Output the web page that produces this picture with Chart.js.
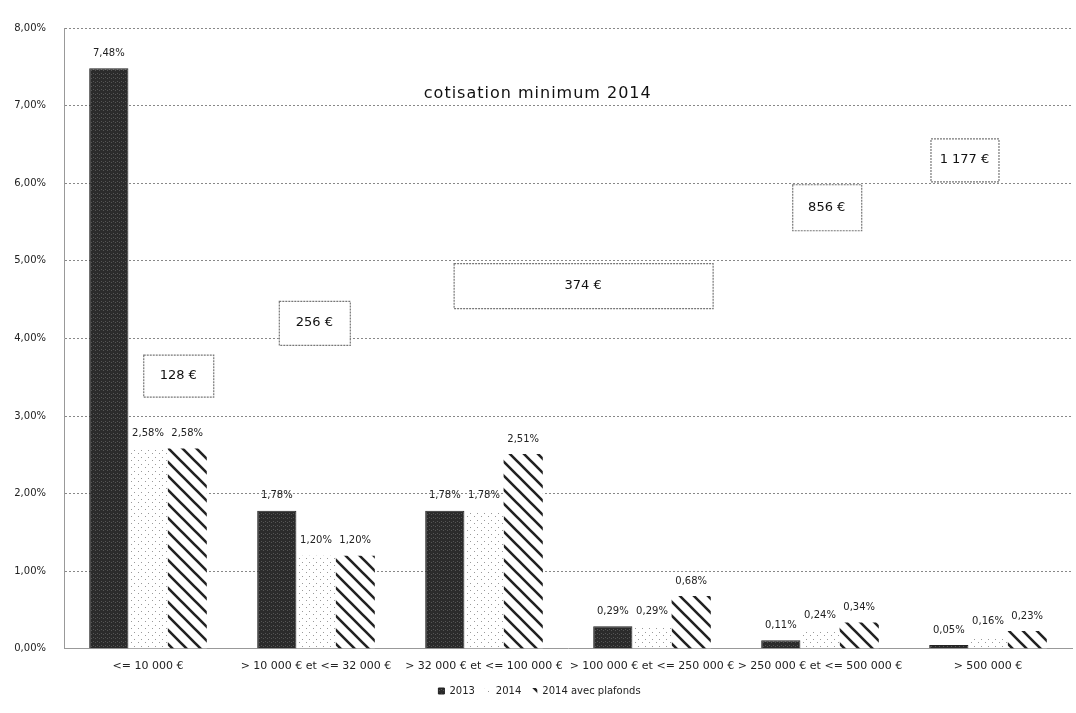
<!DOCTYPE html>
<html>
<head>
<meta charset="utf-8">
<script src="https://cdn.jsdelivr.net/npm/chart.js@4"></script>
<style>
  body { margin: 0; background: #fff; }
  #wrap { width: 1076px; height: 713px; }
</style>
</head>
<body>
<div id="wrap"><canvas id="barChart"></canvas></div>
<script>
// données
var categories = ['<= 10 000 €', '> 10 000 € et <= 32 000 €', '> 32 000 € et <= 100 000 €',
  '> 100 000 € et <= 250 000 €', '> 250 000 € et <= 500 000 €', '> 500 000 €'];
var taux2013 = [7.48, 1.78, 1.78, 0.29, 0.11, 0.05];
var taux2014 = [2.58, 1.20, 1.78, 0.29, 0.24, 0.16];
var taux2014Plafonds = [2.58, 1.20, 2.51, 0.68, 0.34, 0.23];
var yTicks = [0, 1, 2, 3, 4, 5, 6, 7, 8];
var minTitle = 'cotisation minimum 2014';
var minCotisation = ['128 €', '256 €', '374 €', '856 €', '1 177 €'];

function fmt(v) {
  return v.toFixed(2).replace('.', ',') + '%';
}

// motifs
function dotPattern() {
  var c = document.createElement('canvas');
  c.width = 7; c.height = 7;
  var g = c.getContext('2d');
  g.fillStyle = '#fff';
  g.fillRect(0, 0, 7, 7);
  g.fillStyle = '#9a9a9a';
  g.fillRect(1, 2, 1, 1);
  g.fillRect(5, 5, 1, 1);
  return g.createPattern(c, 'repeat');
}
function hatchPattern() {
  var s = 14;
  var c = document.createElement('canvas');
  c.width = s; c.height = s;
  var g = c.getContext('2d');
  g.fillStyle = '#fff';
  g.fillRect(0, 0, s, s);
  g.strokeStyle = '#222';
  g.lineWidth = 2.6;
  g.beginPath();
  g.moveTo(-2, -2); g.lineTo(s + 2, s + 2);
  g.moveTo(-2, s - 2); g.lineTo(2, s + 2);
  g.moveTo(s - 2, -2); g.lineTo(s + 2, 2);
  g.stroke();
  return g.createPattern(c, 'repeat');
}
function darkPattern() {
  var c = document.createElement('canvas');
  c.width = 4; c.height = 4;
  var g = c.getContext('2d');
  g.fillStyle = '#2b2b2b';
  g.fillRect(0, 0, 4, 4);
  g.fillStyle = '#555';
  g.fillRect(1, 1, 1, 1);
  g.fillRect(3, 2, 1, 1);
  return g.createPattern(c, 'repeat');
}

// étiquettes de valeurs au-dessus des barres
var valueLabels = {
  id: 'valueLabels',
  afterDatasetsDraw: function (chart) {
    var ctx = chart.ctx;
    ctx.save();
    ctx.font = '10px "DejaVu Sans"';
    ctx.fillStyle = '#222';
    ctx.textAlign = 'center';
    ctx.textBaseline = 'bottom';
    chart.data.datasets.forEach(function (ds, i) {
      chart.getDatasetMeta(i).data.forEach(function (bar, j) {
        ctx.fillText(fmt(ds.data[j]), bar.x, bar.y - 10);
      });
    });
    ctx.restore();
  }
};

// encadrés cotisation minimum (positions en coordonnées de l'axe)
var minBoxes = {
  id: 'minBoxes',
  afterDatasetsDraw: function (chart) {
    var ctx = chart.ctx;
    var xs = chart.scales.x, ys = chart.scales.y;
    var place = [
      { c: 0.18, v: 3.52, w: 70, h: 42 },
      { c: 0.99, v: 4.2, w: 71, h: 44 },
      { c: 2.59, v: 4.68, w: 259, h: 45 },
      { c: 4.04, v: 5.69, w: 69, h: 46 },
      { c: 4.86, v: 6.3, w: 68, h: 43 }
    ];
    ctx.save();
    ctx.font = '13px "DejaVu Sans"';
    ctx.textAlign = 'center';
    ctx.textBaseline = 'middle';
    place.forEach(function (p, i) {
      var cx = xs.getPixelForValue(p.c), cy = ys.getPixelForValue(p.v);
      ctx.fillStyle = '#fff';
      ctx.fillRect(cx - p.w / 2, cy - p.h / 2, p.w, p.h);
      ctx.setLineDash([2, 1]);
      ctx.strokeStyle = '#777';
      ctx.lineWidth = 1.2;
      ctx.strokeRect(cx - p.w / 2 + 0.5, cy - p.h / 2 + 0.5, p.w, p.h);
      ctx.setLineDash([]);
      ctx.fillStyle = '#111';
      ctx.fillText(minCotisation[i], cx, cy);
    });
    ctx.font = '16px "DejaVu Sans"';
    ctx.letterSpacing = '1px';
    ctx.textBaseline = 'alphabetic';
    ctx.fillStyle = '#111';
    ctx.fillText(minTitle, xs.getPixelForValue(2.32), ys.getPixelForValue(7.1));
    ctx.restore();
  }
};

var ctxBar = document.getElementById('barChart').getContext('2d');
var chartBar = new Chart(ctxBar, {
  type: 'bar',
  data: {
    labels: categories,
    datasets: [
      { label: '2013', data: taux2013, backgroundColor: darkPattern(), borderColor: '#222', borderWidth: 1 },
      { label: '2014', data: taux2014, backgroundColor: dotPattern(), borderWidth: 0 },
      { label: '2014 avec plafonds', data: taux2014Plafonds, backgroundColor: hatchPattern(), borderWidth: 0 }
    ]
  },
  options: {
    responsive: true,
    maintainAspectRatio: false,
    animation: false,
    layout: { padding: { top: 28, left: 7, right: 4, bottom: 7 } },
    datasets: { bar: { categoryPercentage: 0.7, barPercentage: 1.0 } },
    plugins: {
      legend: {
        position: 'bottom',
        labels: { boxWidth: 6, boxHeight: 6, font: { size: 10, family: 'DejaVu Sans' }, color: '#222', padding: 10 }
      },
      tooltip: { enabled: false }
    },
    scales: {
      x: {
        grid: { display: false },
        border: { color: '#999', dash: [2, 2] },
        ticks: { maxRotation: 0, autoSkip: false, font: { size: 11, family: 'DejaVu Sans' }, color: '#222', padding: 3 }
      },
      y: {
        min: 0,
        max: 8,
        afterFit: function (s) { s.width = 57; },
        afterBuildTicks: function (s) { s.ticks = yTicks.map(function (v) { return { value: v }; }); },
        grid: { color: '#888', tickLength: 0 },
        border: { color: '#999', dash: [2, 2] },
        ticks: {
          callback: function (v) { return fmt(v); },
          font: { size: 10, family: 'DejaVu Sans' },
          color: '#222',
          padding: 18
        }
      }
    }
  },
  plugins: [valueLabels, minBoxes]
});
</script>
</body>
</html>
